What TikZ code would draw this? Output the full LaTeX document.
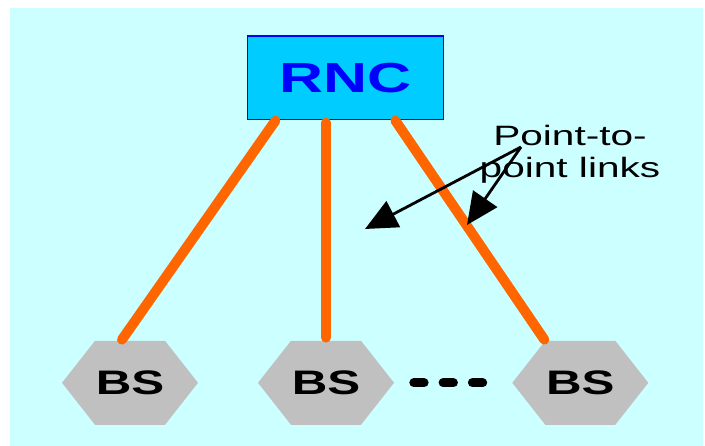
\documentclass[tikz,border=0pt]{standalone}
\usepackage{fontspec}
\setmainfont{Liberation Sans}
% wide sans used for every label
\newfontfamily\widesans[FakeStretch=1.45]{Liberation Sans}
\usetikzlibrary{arrows.meta,calc}

\definecolor{panel}{HTML}{CCFFFF}
\definecolor{rncfill}{HTML}{00CCFF}
\definecolor{rncedge}{HTML}{0000FF}
\definecolor{linkorange}{HTML}{FF6600}
\definecolor{bsgray}{HTML}{C0C0C0}

\begin{document}
\begin{tikzpicture}[x=1pt,y=-1pt,
  rncbox/.style={draw=rncedge, line width=1.2pt, fill=rncfill,
    minimum width=195.6pt, minimum height=83.5pt, inner sep=0pt,
    text=rncedge, font=\widesans\bfseries\fontsize{42}{42}\selectfont},
  bsnode/.style={fill=panel, minimum width=136pt, minimum height=84pt,
    inner sep=0pt, font=\widesans\bfseries\fontsize{34}{34}\selectfont,
    path picture={
      \fill[bsgray] (path picture bounding box.west)
        -- ([xshift=33pt]path picture bounding box.north west)
        -- ([xshift=-33pt]path picture bounding box.north east)
        -- (path picture bounding box.east)
        -- ([xshift=-33pt]path picture bounding box.south east)
        -- ([xshift=33pt]path picture bounding box.south west) -- cycle;}},
  link/.style={draw=linkorange, line width=10pt, line cap=round},
  pointer/.style={draw=black, line width=2.8pt,
    -{Triangle[length=32pt,width=29pt]}},
  dotrow/.style={draw=black, line width=9pt, line cap=round,
    dash pattern=on 10.3pt off 19pt},
  lbl/.style={align=center, inner sep=0pt,
    font=\widesans\fontsize{28}{32}\selectfont}]

  \useasboundingbox (0,0) rectangle (705,446);
  \fill[panel] (10,8) rectangle (703,446);

  % controller and base stations
  \node[rncbox] (rnc) at (345.5,77.8) {RNC};
  \node[bsnode] (bs1) at (130,382.8) {BS};
  \node[bsnode] (bs2) at (326,382.8) {BS};
  \node[bsnode] (bs3) at (580.3,382.8) {BS};

  % point-to-point links
  \draw[link] ([xshift=28.3pt,yshift=-0.5pt]rnc.south west) -- ([xshift=-8pt,yshift=1pt]bs1.north);
  \draw[link] ([yshift=-2.5pt]rnc.south west -| bs2.north) -- ([yshift=3pt]bs2.north);
  \draw[link] ([xshift=148.3pt,yshift=-0.5pt]rnc.south west) -- ([xshift=-36pt,yshift=1pt]bs3.north);

  % more stations in between
  \coordinate (dotsA) at (413.8,382.8);
  \coordinate (dotsB) at (482.8,382.8);
  \draw[dotrow] (dotsA) -- (dotsB);

  % annotation (base anchor sits on the last line)
  \node[lbl, anchor=base] (note) at (570,178) {Point-to-\\point links};
  \coordinate (src) at (521,147);
  \coordinate (tipA) at (365,229);
  \coordinate (tipB) at (467,225);
  \draw[pointer] (src) -- (tipA);
  \draw[pointer] (src) -- (tipB);
\end{tikzpicture}
\end{document}
